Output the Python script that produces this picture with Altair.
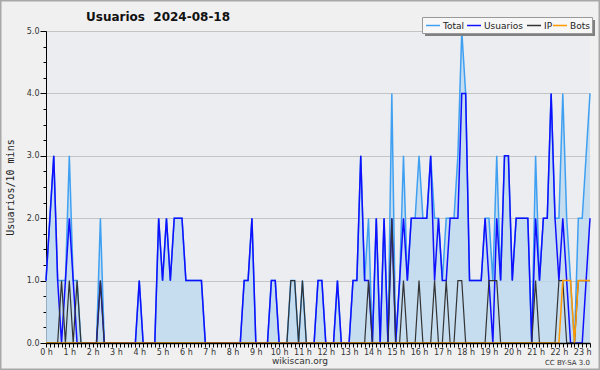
import altair as alt
import pandas as pd

# 10-minute slots, 0 = 00:00
slots = list(range(141))

total = [1, 2, 3, 1, 1, 1, 3, 1, 1, 0,
         0, 0, 0, 0, 2, 0, 0, 0, 0, 0,
         0, 0, 0, 0, 1, 0, 0, 0, 0, 2,
         1, 2, 1, 2, 2, 2, 1, 1, 1, 1,
         1, 0, 0, 0, 0, 0, 0, 0, 0, 0,
         0, 1, 1, 2, 0, 0, 0, 0, 1, 1,
         0, 0, 0, 1, 1, 0, 1, 0, 0, 0,
         1, 1, 0, 0, 0, 1, 0, 0, 0, 1,
         1, 3, 1, 2, 0, 2, 0, 2, 0, 4,
         0, 1, 3, 1, 2, 2, 3, 2, 2, 3,
         2, 2, 1, 2, 2, 2, 3, 5, 4, 1,
         1, 1, 1, 2, 2, 1, 3, 1, 3, 3,
         1, 2, 2, 2, 2, 0, 3, 1, 2, 2,
         4, 2, 2, 4, 2, 1, 0, 2, 2, 3,
         4]

usuarios = [1, 2, 3, 1, 0, 1, 2, 1, 0, 0,
            0, 0, 0, 0, 1, 0, 0, 0, 0, 0,
            0, 0, 0, 0, 1, 0, 0, 0, 0, 2,
            1, 2, 1, 2, 2, 2, 1, 1, 1, 1,
            1, 0, 0, 0, 0, 0, 0, 0, 0, 0,
            0, 1, 1, 2, 0, 0, 0, 0, 1, 1,
            0, 0, 0, 0, 0, 0, 0, 0, 0, 0,
            1, 1, 0, 0, 0, 1, 0, 0, 0, 1,
            1, 3, 1, 1, 0, 2, 0, 2, 0, 2,
            0, 1, 2, 1, 2, 2, 2, 2, 2, 3,
            1, 2, 1, 1, 2, 2, 2, 4, 4, 1,
            1, 1, 1, 2, 1, 0, 2, 1, 3, 3,
            1, 2, 2, 2, 2, 0, 2, 1, 2, 2,
            4, 2, 1, 2, 1, 0, 0, 0, 0, 1,
            2]

ip = [0, 0, 0, 0, 1, 0, 1, 0, 1, 0,
      0, 0, 0, 0, 1, 0, 0, 0, 0, 0,
      0, 0, 0, 0, 0, 0, 0, 0, 0, 0,
      0, 0, 0, 0, 0, 0, 0, 0, 0, 0,
      0, 0, 0, 0, 0, 0, 0, 0, 0, 0,
      0, 0, 0, 0, 0, 0, 0, 0, 0, 0,
      0, 0, 0, 1, 1, 0, 1, 0, 0, 0,
      0, 0, 0, 0, 0, 0, 0, 0, 0, 0,
      0, 0, 0, 1, 0, 0, 0, 0, 0, 2,
      0, 0, 1, 0, 0, 0, 1, 0, 0, 0,
      1, 0, 0, 1, 0, 0, 1, 1, 0, 0,
      0, 0, 0, 0, 1, 1, 1, 0, 0, 0,
      0, 0, 0, 0, 0, 0, 1, 0, 0, 0,
      0, 0, 1, 1, 0, 0, 0, 1, 1, 1,
      1]

bots = [0] * 133 + [1, 1, 1, 0, 1, 1, 1, 1]

series_names = ["Total", "Usuarios", "IP", "Bots"]
series_colors = ["#3fa0f2", "#1010ff", "#333333", "#ff9900"]
series_widths = [1.5, 1.5, 1.2, 1.5]

title_text = "Usuarios \u00a02024-08-18"
y_title = "Usuarios/10 mins"
footer_site = "wikiscan.org"
footer_license = "CC BY-SA 3.0"

rows = []
for name, vals in zip(series_names, [total, usuarios, ip, bots]):
    for s, v in zip(slots, vals):
        rows.append({"slot": s, "value": v, "serie": name})
df = pd.DataFrame(rows)

FONT = "DejaVu Sans"
W, H = 544, 312

x_enc = alt.X(
    "slot:Q",
    scale=alt.Scale(domain=[0, 140], nice=False, zero=False),
    axis=alt.Axis(
        title=None,
        values=slots,
        labelExpr="datum.value % 6 === 0 && datum.value <= 138 ? (datum.value / 6) + ' h' : ''",
        labelFont=FONT, labelFontSize=8, labelColor="#333333",
        labelPadding=1, labelOverlap=False, labelFlush=False,
        tickColor="#000000", tickSize=4, tickWidth=1,
        domainColor="#000000", domainWidth=1.6, grid=False, zindex=1,
    ),
)
y_enc = alt.Y(
    "value:Q",
    scale=alt.Scale(domain=[0, 5], nice=False),
    axis=alt.Axis(
        title=y_title,
        titleFont="DejaVu Sans Mono", titleFontSize=10, titleFontWeight="normal",
        titleColor="#222222", titleX=-36, titleY=156, titleAngle=270,
        titleAlign="center", titleBaseline="middle",
        values=[k * 0.25 for k in range(21)],
        labelExpr="datum.value % 1 === 0 ? format(datum.value, '.1f') : ''",
        labelFont=FONT, labelFontSize=8, labelColor="#333333", labelPadding=1,
        labelOverlap=False, labelFlush=False,
        tickColor="#000000", tickWidth=1,
        tickSize={"condition": {"test": "datum.value % 1 === 0", "value": 6}, "value": 3},
        domainColor="#000000", domainWidth=1,
        grid=True, gridColor="#c4c4c4", gridWidth=1,
        gridOpacity={"condition": {"test": "datum.value % 1 === 0", "value": 1}, "value": 0},
    ),
)

color_scale = alt.Scale(domain=series_names, range=series_colors)

area = alt.Chart(df).transform_filter(alt.datum.serie == "Total").mark_area(
    color="#bdd8f0", opacity=0.8
).encode(x=x_enc, y=y_enc)

lines = []
for name, w in zip(series_names, series_widths):
    lines.append(
        alt.Chart(df).transform_filter(alt.datum.serie == name).mark_line(
            strokeWidth=w
        ).encode(x=x_enc, y=y_enc,
                 color=alt.Color("serie:N", scale=color_scale, legend=None))
    )

one = pd.DataFrame({"k": [0]})

# legend box (drawn by hand, positions relative to the plot origin)
shadow = alt.Chart(one).mark_rect(color="#808080").encode(
    x=alt.value(379), x2=alt.value(549), y=alt.value(-11), y2=alt.value(5)
)
legend_box = alt.Chart(one).mark_rect(
    fill="#f7f7f7", stroke="#9a9a9a", strokeWidth=1
).encode(x=alt.value(376.5), x2=alt.value(546.5), y=alt.value(-13.5), y2=alt.value(2.5))

legend_sym_x = [380, 421, 481, 507]
legend_layers = []
for name, color, sx in zip(series_names, series_colors, legend_sym_x):
    legend_layers.append(
        alt.Chart(one).mark_rule(color=color, strokeWidth=1.5).encode(
            x=alt.value(sx), x2=alt.value(sx + 14), y=alt.value(-5.5)
        )
    )
    legend_layers.append(
        alt.Chart(pd.DataFrame({"t": [name]})).mark_text(
            align="left", baseline="middle", font=FONT, fontSize=9, color="#222222"
        ).encode(x=alt.value(sx + 17), y=alt.value(-5.5), text="t:N")
    )

border = alt.Chart(one).mark_rect(
    fill=None, stroke="#a8a8a8", strokeWidth=1.5
).encode(x=alt.value(-45.25), x2=alt.value(553.25), y=alt.value(-30.25), y2=alt.value(338.25))

title = alt.Chart(pd.DataFrame({"t": [title_text]})).mark_text(
    align="left", baseline="alphabetic", font=FONT, fontSize=12,
    fontWeight="bold", color="#111111"
).encode(x=alt.value(40), y=alt.value(-10), text="t:N")

site = alt.Chart(pd.DataFrame({"t": [footer_site]})).mark_text(
    align="center", baseline="alphabetic", font=FONT, fontSize=9, color="#333333"
).encode(x=alt.value(254), y=alt.value(333), text="t:N")

lic = alt.Chart(pd.DataFrame({"t": [footer_license]})).mark_text(
    align="right", baseline="alphabetic", font=FONT, fontSize=7, color="#333333"
).encode(x=alt.value(544), y=alt.value(334), text="t:N")

chart = alt.layer(area, *lines, shadow, legend_box, *legend_layers,
                  title, site, lic, border).properties(
    width=W, height=H,
    autosize=alt.AutoSizeParams(type="none"),
    padding={"left": 46, "top": 31, "right": 10, "bottom": 27},
    background="#f0f0f0",
).configure_view(fill="#ebedf0", stroke=None)

chart.save("out.html", embed_options={"renderer": "svg", "actions": False})
